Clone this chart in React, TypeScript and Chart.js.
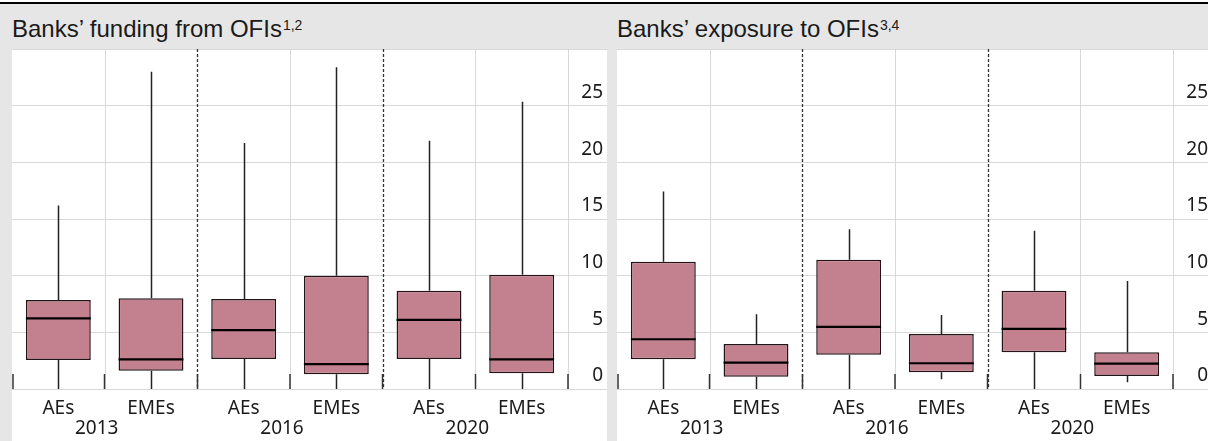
import React, { useEffect, useRef } from "react";
import { Chart, registerables } from "chart.js";

Chart.register(...registerables);

// ---- data ----
const categories = ["AEs", "EMEs", "AEs", "EMEs", "AEs", "EMEs"];
const years = ["2013", "2016", "2020"];
const yTickValues = [0, 5, 10, 15, 20, 25, 30];
const yTickLabels = ["0", "5", "10", "15", "20", "25", ""];

// Banks' funding from OFIs
const fundingMin = [0, 0, 0, 0, 0, 0];
const fundingQ1 = [2.56, 1.62, 2.65, 1.3, 2.65, 1.39];
const fundingMedian = [6.24, 2.62, 5.2, 2.2, 6.1, 2.62];
const fundingQ3 = [7.86, 8.0, 7.95, 10.0, 8.66, 10.07];
const fundingMax = [16.2, 28.0, 21.7, 28.4, 21.9, 25.35];

// Banks' exposure to OFIs
const exposureMin = [0, 0, 0, 0.85, 0, 0.6];
const exposureQ1 = [2.62, 1.09, 3.03, 1.47, 3.24, 1.15];
const exposureMedian = [4.39, 2.33, 5.48, 2.27, 5.3, 2.24];
const exposureQ3 = [11.22, 3.98, 11.4, 4.86, 8.66, 3.24];
const exposureMax = [17.43, 6.6, 14.1, 6.54, 13.96, 9.54];

// ---- styles ----
const BOX_FILL = "#c3808f";
const BOX_EDGE = "#241418";
const GRID = "#d9d9d9";
const TEXT = "#1a1a1a";
const BG = "#e6e6e6";
const TICK_FONT = { family: "'Noto Sans', 'Open Sans', sans-serif", size: 19 };

function makeExtras(mins: number[], medians: number[], maxs: number[]) {
  return {
    id: "boxExtras",
    beforeDatasetsDraw(chart: any) {
      const ctx = chart.ctx;
      const xs = chart.scales.x;
      const area = chart.chartArea;
      const n = categories.length;
      ctx.save();
      for (let i = 1; i < n; i++) {
        const bx = Math.round((xs.getPixelForTick(i - 1) + xs.getPixelForTick(i)) / 2) + 0.5;
        ctx.beginPath();
        if (i % 2 === 0) {
          ctx.strokeStyle = "#333";
          ctx.lineWidth = 1.3;
          ctx.setLineDash([3, 2]);
        } else {
          ctx.strokeStyle = GRID;
          ctx.lineWidth = 1;
          ctx.setLineDash([]);
        }
        ctx.moveTo(bx, area.top);
        ctx.lineTo(bx, area.bottom);
        ctx.stroke();
      }
      ctx.restore();
    },
    afterDatasetsDraw(chart: any) {
      const ctx = chart.ctx;
      const ys = chart.scales.y;
      const xs = chart.scales.x;
      const area = chart.chartArea;
      const meta = chart.getDatasetMeta(0);
      ctx.save();
      meta.data.forEach((bar: any, i: number) => {
        const props = bar.getProps(["x", "y", "base", "width"], true);
        const x = Math.round(props.x) + 0.5;
        const top = Math.min(props.y, props.base);
        const bottom = Math.max(props.y, props.base);
        ctx.strokeStyle = "#222";
        ctx.lineWidth = 1.5;
        ctx.beginPath();
        ctx.moveTo(x, ys.getPixelForValue(maxs[i]));
        ctx.lineTo(x, top);
        ctx.moveTo(x, bottom);
        ctx.lineTo(x, ys.getPixelForValue(mins[i]));
        ctx.stroke();
        ctx.strokeStyle = "#000";
        ctx.lineWidth = 2.2;
        ctx.beginPath();
        const my = ys.getPixelForValue(medians[i]);
        ctx.moveTo(props.x - props.width / 2, my);
        ctx.lineTo(props.x + props.width / 2, my);
        ctx.stroke();
      });
      // short tick marks at category boundaries, pointing up into the plot
      const n = categories.length;
      ctx.strokeStyle = "#333";
      ctx.lineWidth = 1.5;
      for (let i = 0; i <= n; i++) {
        let bx: number;
        if (i === 0) bx = area.left + 0.75;
        else if (i === n) bx = area.right;
        else bx = (xs.getPixelForTick(i - 1) + xs.getPixelForTick(i)) / 2;
        bx = Math.round(bx * 2) / 2;
        ctx.beginPath();
        ctx.moveTo(bx, area.bottom - 15);
        ctx.lineTo(bx, area.bottom);
        ctx.stroke();
      }
      ctx.restore();
    },
  };
}

type PanelProps = {
  left: number;
  title: string;
  sup: string;
  mins: number[];
  q1: number[];
  medians: number[];
  q3: number[];
  maxs: number[];
};

function zeroPad(s: any) {
  s.paddingTop = 0;
  s.paddingBottom = 0;
  s.paddingLeft = 0;
  s.paddingRight = 0;
}

function BoxPanel({ left, title, sup, mins, q1, medians, q3, maxs }: PanelProps) {
  const ref = useRef<HTMLCanvasElement>(null);
  useEffect(() => {
    if (!ref.current) return;
    const chart = new Chart(ref.current, {
      type: "bar",
      data: {
        labels: categories,
        datasets: [
          {
            data: q1.map((v, i) => [v, q3[i]]) as any,
            backgroundColor: BOX_FILL,
            borderColor: BOX_EDGE,
            borderWidth: 1.5,
            borderSkipped: false,
            barPercentage: 0.7,
            categoryPercentage: 1,
            xAxisID: "x",
            yAxisID: "y",
          },
        ],
      },
      options: {
        animation: false,
        responsive: false,
        devicePixelRatio: 1,
        events: [],
        layout: { padding: { left: 0, right: 4, top: 0, bottom: 0 } },
        plugins: {
          legend: { display: false },
          tooltip: { enabled: false },
          title: { display: false },
        },
        scales: {
          x: {
            type: "category",
            labels: categories,
            offset: true,
            position: "bottom",
            grid: { display: false, drawTicks: false },
            border: { display: false },
            ticks: { padding: 8, color: TEXT, font: TICK_FONT, maxRotation: 0, autoSkip: false },
            afterFit: (s: any) => {
              s.height = 30;
              zeroPad(s);
            },
          },
          x2: {
            type: "category",
            labels: years,
            offset: true,
            position: "bottom",
            grid: { display: false, drawTicks: false },
            border: { display: false },
            ticks: { padding: -2, labelOffset: -8, color: TEXT, font: TICK_FONT, maxRotation: 0, autoSkip: false },
            afterFit: (s: any) => {
              s.height = 22;
              zeroPad(s);
            },
          },
          y: {
            type: "linear",
            position: "right",
            min: 0,
            max: 30,
            afterBuildTicks: (s: any) => {
              s.ticks = yTickValues.map((v) => ({ value: v }));
            },
            afterFit: (s: any) => {
              s.width = 35;
              zeroPad(s);
            },
            grid: { color: GRID, lineWidth: 1, tickLength: 39, tickColor: GRID, drawTicks: true },
            border: { display: true, color: GRID, width: 1 },
            ticks: {
              padding: 0,
              labelOffset: -13,
              crossAlign: "far",
              color: TEXT,
              font: TICK_FONT,
              callback: (_v: any, i: number) => yTickLabels[i],
            },
          },
        },
      },
      plugins: [makeExtras(mins, medians, maxs)],
    } as any);
    return () => chart.destroy();
  }, []);
  return (
    <>
      <div
        style={{
          position: "absolute",
          left,
          top: 18,
          fontFamily: "'Liberation Sans', Arial, sans-serif",
          fontSize: 24,
          lineHeight: "22px",
          color: TEXT,
          whiteSpace: "nowrap",
        }}
      >
        {title}
        <span style={{ fontSize: 14, position: "relative", top: -7, marginLeft: 1 }}>{sup}</span>
      </div>
      <div
        style={{
          position: "absolute",
          left,
          top: 49,
          width: 595,
          height: 392,
          background: "#fff",
        }}
      >
        <canvas ref={ref} width={595} height={392} style={{ display: "block", width: 595, height: 392 }} />
      </div>
    </>
  );
}

export default function App() {
  useEffect(() => {
    document.body.style.margin = "0";
  }, []);
  return (
    <div
      style={{
        position: "relative",
        width: 1208,
        height: 441,
        overflow: "hidden",
        background: "#fff",
      }}
    >
      <div style={{ position: "absolute", left: 0, top: 4, width: 1208, height: 437, background: BG }} />
      <div style={{ position: "absolute", left: 0, top: 2, width: 1208, height: 2, background: "#000" }} />
      <BoxPanel
        left={12}
        title={"Banks\u2019 funding from OFIs"}
        sup="1,2"
        mins={fundingMin}
        q1={fundingQ1}
        medians={fundingMedian}
        q3={fundingQ3}
        maxs={fundingMax}
      />
      <BoxPanel
        left={617}
        title={"Banks\u2019 exposure to OFIs"}
        sup="3,4"
        mins={exposureMin}
        q1={exposureQ1}
        medians={exposureMedian}
        q3={exposureQ3}
        maxs={exposureMax}
      />
    </div>
  );
}
